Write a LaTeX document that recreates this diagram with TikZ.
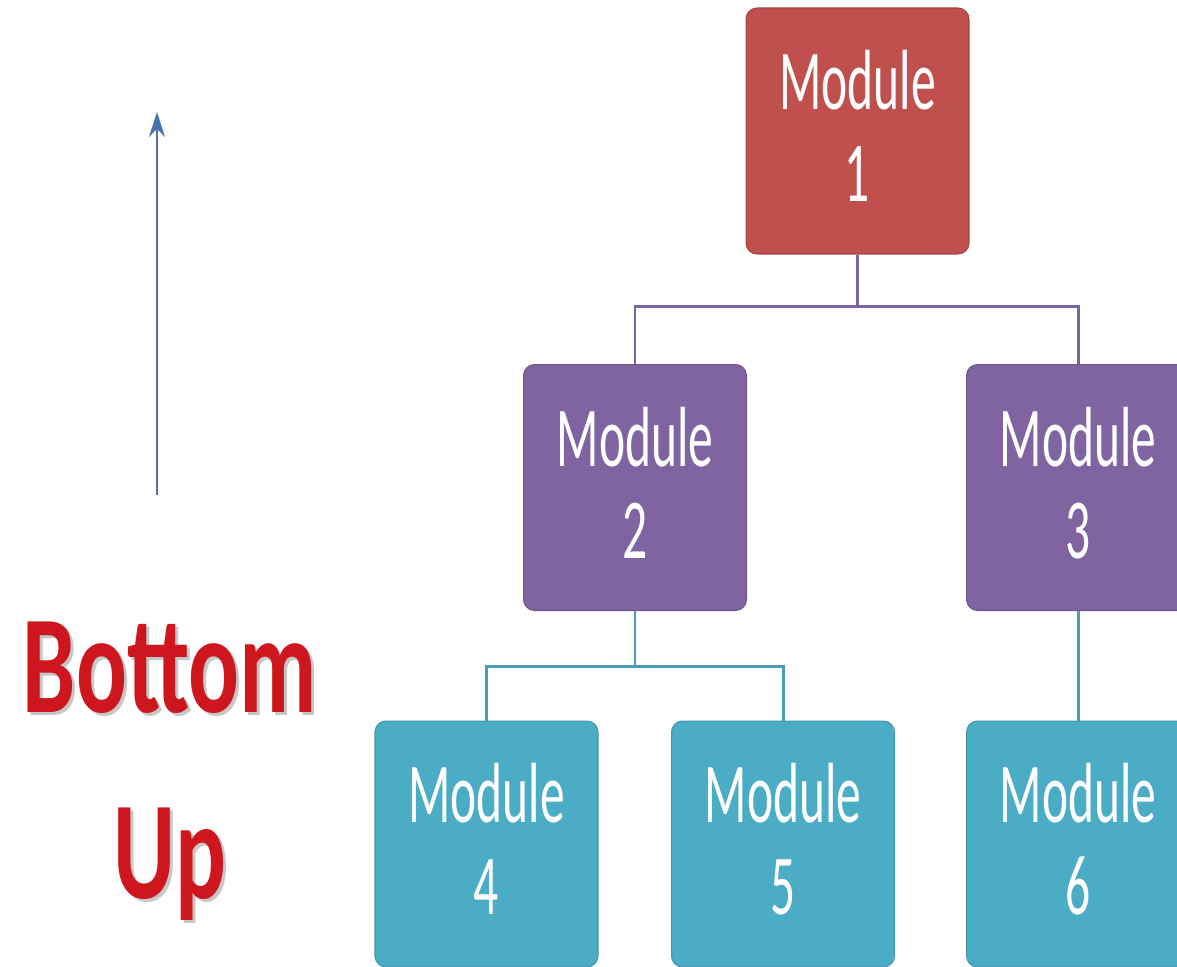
\documentclass[tikz,border=0pt]{standalone}
\usepackage{fontspec}
\setmainfont{Carlito}
\newfontfamily\modfont[FakeStretch=0.58]{Carlito}
\newfontfamily\bufont[FakeStretch=0.68]{Carlito}
\usetikzlibrary{arrows.meta}
\definecolor{cone}{HTML}{C0504D}
\definecolor{ctwo}{HTML}{8064A2}
\definecolor{cthree}{HTML}{4BACC6}
\definecolor{plinec}{HTML}{7763A5}
\definecolor{tlinec}{HTML}{4A9DB3}
\definecolor{arrc}{HTML}{4A72B0}
\definecolor{redtxt}{RGB}{205,22,30}
\newcommand{\lowstrut}{\rule[-0.2cm]{0pt}{0.2cm}}
\begin{document}
\begin{tikzpicture}[x=0.02cm,y=-0.02cm,
  box/.style={rounded corners=0.22cm, minimum width=4.46cm, minimum height=4.92cm,
    inner sep=0pt, align=center, text=white, line width=0.6pt,
    font=\modfont\fontsize{48.6}{52.3}\selectfont},
  lvlone/.style={box, fill=cone, draw=cone!85!black},
  lvltwo/.style={box, fill=ctwo, draw=ctwo!85!black},
  lvlthree/.style={box, fill=cthree, draw=cthree!88!black},
  pline/.style={draw=plinec, line width=1.7pt},
  tline/.style={draw=tlinec, line width=1.7pt},
  arr/.style={draw=arrc, line width=1.1pt, -{Stealth[length=0.5cm,width=0.32cm]}},
  bu/.style={anchor=base, inner sep=0pt, font=\bufont\bfseries\fontsize{79.5}{80}\selectfont},
]
\useasboundingbox (0,0) rectangle (1177,967);
\clip (0,0) rectangle (1177,967);
\fill[white] (0,0) rectangle (1177,967);

\node[lvlone] (m1) at (857.5,131) {Module\\1\lowstrut};
\node[lvltwo] (m2) at (635,487.5) {Module\\2\lowstrut};
\node[lvltwo] (m3) at (1078,487.5) {Module\\3\lowstrut};
\node[lvlthree] (m4) at (486.5,844) {Module\\4\lowstrut};
\node[lvlthree] (m5) at (783,844) {Module\\5\lowstrut};
\node[lvlthree] (m6) at (1078,844) {Module\\6\lowstrut};

\draw[pline] (m1.south) -- ++(0,52) -| (m2.north);
\draw[pline] (m1.south) -- ++(0,52) -| (m3.north);
\draw[tline] (m2.south) -- ++(0,55) -| (m4.north);
\draw[tline] (m2.south) -- ++(0,55) -| (m5.north);
\draw[tline] (m3.south) -- (m6.north);

\coordinate (abot) at (157,495);
\coordinate (atop) at (157,112);
\draw[arr] (abot) -- (atop);

\node[bu, text=black!22] (bottomsh) at (173,715) {Bottom};
\node[bu, text=black!22] (upsh) at (173,901) {Up};
\node[bu, text=redtxt] (bottom) at (170,712) {Bottom};
\node[bu, text=redtxt] (up) at (170,898) {Up};
\end{tikzpicture}
\end{document}
